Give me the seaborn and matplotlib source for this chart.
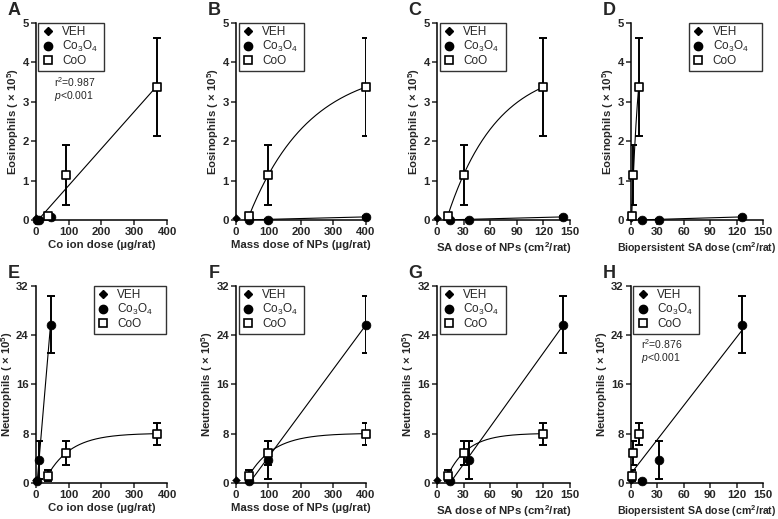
import numpy as np
import matplotlib
matplotlib.use('Agg')
import matplotlib.pyplot as plt
import seaborn as sns
from matplotlib.lines import Line2D

# Doses for each x-axis metric (VEH sits at 0 everywhere)
mass_co3o4 = [40, 100, 400]
mass_coo = [40, 100, 400]
ion_co3o4 = [4, 11, 45]
ion_coo = [36, 93, 370]
sa_co3o4 = [14.3, 35.6, 142.5]
sa_coo = [12, 30, 120]
bio_co3o4 = [13, 32, 126.5]
bio_coo = [1.1, 3.0, 9.0]

# Eosinophils (x 10^5)
veh_eos = 0.05
co3o4_eos = [0.01, 0.01, 0.08]
co3o4_eos_sd = [0.02, 0.02, 0.03]
coo_eos = [0.10, 1.15, 3.37]
coo_eos_sd = [0.05, 0.76, 1.23]

# Neutrophils (x 10^5)
veh_neu = 0.5
co3o4_neu = [0.35, 3.7, 25.7]
co3o4_neu_sd = [0.2, 3.05, 4.7]
coo_neu = [1.2, 4.9, 8.0]
coo_neu_sd = [0.9, 1.95, 1.8]

x_labels = ['Co ion dose (µg/rat)', 'Mass dose of NPs (µg/rat)',
            r'SA dose of NPs (cm$^\mathbf{2}$/rat)',
            r'Biopersistent SA dose (cm$^\mathbf{2}$/rat)']
x_label_sizes = [8.2, 8.2, 8.2, 7.6]
x_co3o4 = [ion_co3o4, mass_co3o4, sa_co3o4, bio_co3o4]
x_coo = [ion_coo, mass_coo, sa_coo, bio_coo]
x_ticks = [[0, 100, 200, 300, 400], [0, 100, 200, 300, 400],
           [0, 30, 60, 90, 120, 150], [0, 30, 60, 90, 120, 150]]
letters = ['A', 'B', 'C', 'D', 'E', 'F', 'G', 'H']
legend_right = [False, False, False, True, True, False, False, False]

sns.set_theme(style='ticks')
plt.rcParams['font.family'] = ['Liberation Sans', 'DejaVu Sans']
plt.rcParams['mathtext.fontset'] = 'custom'
plt.rcParams['mathtext.rm'] = 'Liberation Sans'
plt.rcParams['mathtext.it'] = 'Liberation Sans:italic'
plt.rcParams['mathtext.bf'] = 'Liberation Sans:bold'


def assoc_fit(x, y):
    # one-phase association y = A - B*exp(-k x), k found by scanning
    x = np.asarray(x, float)
    y = np.asarray(y, float)
    best = None
    for k in np.logspace(-3, 2, 4000) / x.max():
        M = np.column_stack([np.ones_like(x), -np.exp(-k * x)])
        coef, *_ = np.linalg.lstsq(M, y, rcond=None)
        res = np.sum((M @ coef - y) ** 2)
        if best is None or res < best[0]:
            best = (res, k, coef)
    _, k, (a, b) = best
    xs = np.linspace(x.min(), x.max(), 200)
    return xs, a - b * np.exp(-k * xs)


def lin_fit(x, y, x0=None):
    x = np.asarray(x, float)
    p = np.polyfit(x, y, 1)
    xs = np.linspace(x.min() if x0 is None else x0, x.max(), 50)
    return xs, np.polyval(p, xs)


fig = plt.figure(figsize=(7.78, 5.19), dpi=100)
lefts = [0.0459, 0.3033, 0.5617, 0.8107]
widths = [0.169, 0.167, 0.171, 0.170]
bottoms = [0.5761, 0.0694]
height = 0.3802

for r in range(2):
    if r == 0:
        veh, c3, c3sd, co, cosd = veh_eos, co3o4_eos, co3o4_eos_sd, coo_eos, coo_eos_sd
        ylab = 'Eosinophils ( × 10$^\\mathbf{5}$)'
        ymax, yticks = 5, [0, 1, 2, 3, 4, 5]
    else:
        veh, c3, c3sd, co, cosd = veh_neu, co3o4_neu, co3o4_neu_sd, coo_neu, coo_neu_sd
        ylab = 'Neutrophils ( × 10$^\\mathbf{5}$)'
        ymax, yticks = 32, [0, 8, 16, 24, 32]
    for c in range(4):
        i = r * 4 + c
        ax = fig.add_axes([lefts[c], bottoms[r], widths[c], height])
        xc3, xco = x_co3o4[c], x_coo[c]

        # fitted curves
        if (r == 0 and c == 0) or (r == 1 and c == 3):
            xa = [0] + list(xc3) + list(xco)
            ya = [veh] + list(c3) + list(co)
            xs, ys = lin_fit(xa, ya, x0=0)
            sns.lineplot(x=xs, y=ys, color='black', lw=0.8, ax=ax,
                         sort=False, estimator=None)
        else:
            xs, ys = lin_fit(xc3, c3)
            sns.lineplot(x=xs, y=ys, color='black', lw=0.8, ax=ax,
                         sort=False, estimator=None)
            xs, ys = assoc_fit(xco, co)
            sns.lineplot(x=xs, y=ys, color='black', lw=0.8, ax=ax,
                         sort=False, estimator=None)

        # error bars
        ax.errorbar(xc3, c3, yerr=c3sd, fmt='none', ecolor='black',
                    elinewidth=1.4, capsize=3, capthick=1.4, zorder=3)
        ax.errorbar(xco, co, yerr=cosd, fmt='none', ecolor='black',
                    elinewidth=1.4, capsize=3, capthick=1.4, zorder=3)

        # markers
        sns.scatterplot(x=[0], y=[veh], marker='D', s=16, color='black',
                        edgecolor='black', ax=ax, clip_on=False, zorder=6, legend=False)
        sns.scatterplot(x=xc3, y=c3, marker='o', s=40, color='black',
                        edgecolor='black', ax=ax, clip_on=False, zorder=6, legend=False)
        sns.scatterplot(x=xco, y=co, marker='s', s=40, color='white',
                        edgecolor='black', linewidth=1.2, ax=ax, clip_on=False,
                        zorder=7, legend=False)

        ax.set_xlim(0, x_ticks[c][-1])
        ax.set_ylim(0, ymax)
        ax.set_xticks(x_ticks[c])
        ax.set_yticks(yticks)
        ax.set_xticklabels([str(t) for t in x_ticks[c]], fontweight='bold')
        ax.set_yticklabels([str(t) for t in yticks], fontweight='bold')
        ax.tick_params(labelsize=8.2, length=3.5, width=1.1, pad=1.5)
        ax.set_xlabel(x_labels[c], fontsize=x_label_sizes[c], fontweight='bold', labelpad=2)
        ax.set_ylabel(ylab, fontsize=8.2, fontweight='bold', labelpad=1)
        for s in ['left', 'bottom']:
            ax.spines[s].set_linewidth(1.1)
            ax.spines[s].set_color('black')
        sns.despine(ax=ax)

        handles = [
            Line2D([], [], marker='D', ms=3.8, color='black', ls='none'),
            Line2D([], [], marker='o', ms=6, color='black', ls='none'),
            Line2D([], [], marker='s', ms=6, mfc='white', mec='black', mew=1.2, ls='none'),
        ]
        if legend_right[i]:
            anchor = (0.44, 0.0, 0.55, 1.0)
        else:
            anchor = (0.02, 0.0, 0.5, 1.0)
        leg = ax.legend(handles, ['VEH', 'Co$_3$O$_4$', 'CoO'],
                        loc='upper left', bbox_to_anchor=anchor, mode='expand',
                        fontsize=8.5, frameon=True, fancybox=False, handlelength=1.0,
                        handletextpad=0.7, borderpad=0.3, labelspacing=0.08,
                        borderaxespad=0.0)
        leg.get_frame().set_edgecolor('black')
        leg.get_frame().set_linewidth(1.0)

        # panel letters
        fig.text(lefts[c] - 0.028, bottoms[r] + height + 0.008, letters[i],
                 fontsize=13, fontweight='bold', ha='center', va='bottom')

        if r == 0 and c == 0:
            ax.text(0.14, 0.735, 'r$^2$=0.987\n$p$<0.001', transform=ax.transAxes,
                    fontsize=7.5, va='top', linespacing=1.0)
        if r == 1 and c == 3:
            ax.text(0.08, 0.74, 'r$^2$=0.876\n$p$<0.001', transform=ax.transAxes,
                    fontsize=7.5, va='top', linespacing=1.0)

fig.savefig('out.png', dpi=100)
